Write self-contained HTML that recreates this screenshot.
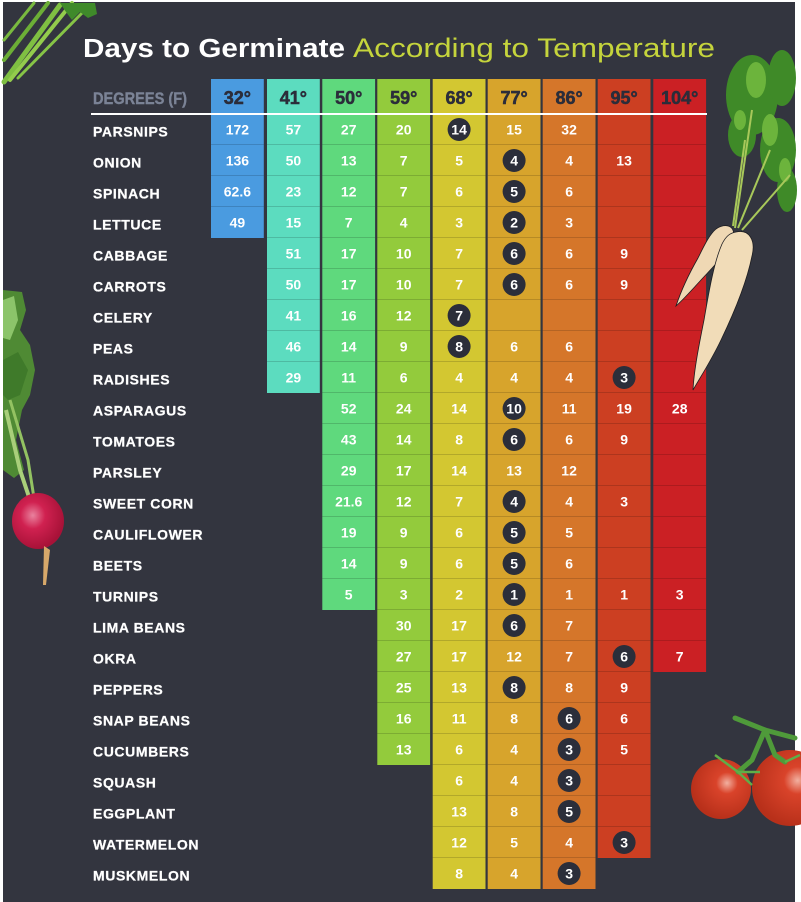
<!DOCTYPE html>
<html>
<head>
<meta charset="utf-8">
<style>
html,body{margin:0;padding:0;background:#ffffff;}
body{width:801px;height:902px;overflow:hidden;}
svg{display:block;}
.lb{font-family:"Liberation Sans",sans-serif;font-weight:700;font-size:14px;fill:#ffffff;letter-spacing:0.6px;stroke:#ffffff;stroke-width:0.25px;}
.nm{font-family:"Liberation Sans",sans-serif;font-weight:700;font-size:14px;fill:#ffffff;text-anchor:middle;}
.hd{font-family:"Liberation Sans",sans-serif;font-weight:700;font-size:18px;fill:#2b2d3a;text-anchor:middle;stroke:#2b2d3a;stroke-width:0.5px;}
.bd{fill:#2b2e3a;}
</style>
</head>
<body>
<svg width="801" height="902" viewBox="0 0 801 902" xmlns="http://www.w3.org/2000/svg">
<defs>
<pattern id="rl" patternUnits="userSpaceOnUse" x="0" y="114" width="10" height="31">
<rect x="0" y="30.3" width="10" height="1.2" fill="#000" fill-opacity="0.22"/>
</pattern>
<radialGradient id="tom" cx="0.6" cy="0.4" r="0.6">
<stop offset="0" stop-color="#f2b0a0"/>
<stop offset="0.3" stop-color="#d9432a"/>
<stop offset="1" stop-color="#b8301a"/>
</radialGradient>
<radialGradient id="rad" cx="0.4" cy="0.4" r="0.6">
<stop offset="0" stop-color="#e9829e"/>
<stop offset="0.4" stop-color="#d02150"/>
<stop offset="1" stop-color="#a81238"/>
</radialGradient>
</defs>

<!-- background -->
<rect x="3" y="2" width="792" height="900" fill="#33353f"/>

<!-- celery top-left -->
<g stroke-linecap="round" fill="none">
<path d="M4 82 L60 5" stroke="#7fbf42" stroke-width="5"/>
<path d="M10 80 L72 3" stroke="#93cc4c" stroke-width="4"/>
<path d="M4 60 L48 3" stroke="#6cae36" stroke-width="4"/>
<path d="M18 78 L85 10" stroke="#86c446" stroke-width="3"/>
<path d="M4 40 L34 3" stroke="#79b93f" stroke-width="3"/>
</g>
<path d="M60 3 L95 3 L97 14 L88 18 L80 12 L72 20 L66 12 Z" fill="#3f8a2a"/>

<!-- radish left -->
<path d="M3 290 L22 292 L26 310 L20 330 L30 345 L35 370 L30 395 L22 410 L16 440 L24 470 L14 478 L3 470 Z" fill="#4f8a34"/>
<path d="M3 300 L14 296 L18 320 L10 340 L3 338 Z" fill="#8cc46a"/>
<path d="M3 360 L18 352 L28 370 L20 395 L8 400 L3 395 Z" fill="#3f7a2a"/>
<path d="M6 410 L20 470 L30 500" stroke="#a9cf7a" stroke-width="4" fill="none"/>
<path d="M10 400 L28 460 L34 498" stroke="#93c262" stroke-width="3" fill="none"/>
<ellipse cx="38" cy="521" rx="26" ry="28" fill="url(#rad)"/>
<path d="M44 546 L50 550 L46 585 L43 585 Z" fill="#d7a86a"/>

<!-- parsnip foliage -->
<g fill="#3f8a28">
<ellipse cx="752" cy="95" rx="26" ry="40"/>
<ellipse cx="782" cy="78" rx="14" ry="28"/>
<ellipse cx="778" cy="150" rx="18" ry="32"/>
<ellipse cx="742" cy="135" rx="14" ry="22"/>
<ellipse cx="787" cy="190" rx="10" ry="22"/>
</g>
<g fill="#6cb43c">
<ellipse cx="756" cy="80" rx="10" ry="18"/>
<ellipse cx="770" cy="130" rx="8" ry="16"/>
<ellipse cx="740" cy="120" rx="6" ry="10"/>
<ellipse cx="785" cy="170" rx="6" ry="12"/>
</g>
<g stroke="#a8c85a" stroke-width="2" fill="none">
<path d="M735 228 L752 110"/>
<path d="M738 228 L770 150"/>
<path d="M742 230 L790 175"/>
<path d="M733 226 L745 140"/>
</g>

<!-- tomatoes -->
<circle cx="790" cy="788" r="38" fill="url(#tom)"/>
<circle cx="721" cy="789" r="30" fill="url(#tom)"/>
<g stroke="#4f9a3a" stroke-width="5" fill="none" stroke-linecap="round">
<path d="M735 718 L765 730 L795 738"/>
<path d="M765 730 L752 760 L738 772"/>
<path d="M765 730 L775 755 L785 762"/>
</g>
<g stroke="#5fae48" stroke-width="2.5" fill="none">
<path d="M738 772 L715 755"/>
<path d="M738 772 L760 772"/>
<path d="M738 772 L752 785"/>
<path d="M785 762 L800 755"/>
</g>

<!-- title -->
<text x="83" y="57" font-family="Liberation Sans, sans-serif" font-weight="700" font-size="25.5" fill="#ffffff" textLength="262" lengthAdjust="spacingAndGlyphs">Days to Germinate</text>
<text x="353" y="57" font-family="Liberation Sans, sans-serif" font-size="26.5" fill="#c5d43c" textLength="362" lengthAdjust="spacingAndGlyphs">According to Temperature</text>

<!-- columns -->
<rect x="211" y="79" width="52.8" height="159" fill="#4a9be0"/>
<rect x="267" y="79" width="52.8" height="314" fill="#5cdcbf"/>
<rect x="322.3" y="79" width="52.8" height="531" fill="#5fd97d"/>
<rect x="377.3" y="79" width="52.8" height="686" fill="#93cb3c"/>
<rect x="432.7" y="79" width="52.8" height="810" fill="#d3c731"/>
<rect x="487.7" y="79" width="52.8" height="810" fill="#d7a42c"/>
<rect x="542.7" y="79" width="52.8" height="810" fill="#d5762a"/>
<rect x="597.7" y="79" width="52.8" height="779" fill="#cc3f22"/>
<rect x="653.3" y="79" width="52.8" height="593" fill="#cb2024"/>

<!-- row separators -->
<rect x="211" y="114" width="52.8" height="121" fill="url(#rl)"/>
<rect x="267" y="114" width="52.8" height="276" fill="url(#rl)"/>
<rect x="322.3" y="114" width="52.8" height="493" fill="url(#rl)"/>
<rect x="377.3" y="114" width="52.8" height="648" fill="url(#rl)"/>
<rect x="432.7" y="114" width="52.8" height="772" fill="url(#rl)"/>
<rect x="487.7" y="114" width="52.8" height="772" fill="url(#rl)"/>
<rect x="542.7" y="114" width="52.8" height="772" fill="url(#rl)"/>
<rect x="597.7" y="114" width="52.8" height="741" fill="url(#rl)"/>
<rect x="653.3" y="114" width="52.8" height="555" fill="url(#rl)"/>

<!-- header -->
<text x="93" y="104" font-family="Liberation Sans, sans-serif" font-weight="700" font-size="16.5" fill="#7b8396" stroke="#7b8396" stroke-width="0.4" textLength="94" lengthAdjust="spacingAndGlyphs">DEGREES (F)</text>
<text class="hd" x="237.4" y="104">32°</text>
<text class="hd" x="293.4" y="104">41°</text>
<text class="hd" x="348.7" y="104">50°</text>
<text class="hd" x="403.7" y="104">59°</text>
<text class="hd" x="459.1" y="104">68°</text>
<text class="hd" x="514.1" y="104">77°</text>
<text class="hd" x="569.1" y="104">86°</text>
<text class="hd" x="624.1" y="104">95°</text>
<text class="hd" x="679.7" y="104">104°</text>
<rect x="91" y="113" width="616" height="2" fill="#ffffff"/>

<!-- parsnips (over the table) -->
<path d="M716 229 C726 222 736 226 733 238 C727 254 712 268 701 280 C691 291 683 300 676 306 C681 291 690 272 698 258 C704 246 709 235 716 229 Z" fill="#efd8b4" stroke="#1e1e22" stroke-width="0.8"/>
<path d="M736 232 C749 229 756 240 752 256 C747 281 735 311 721 340 C711 361 701 376 693 390 C694 370 699 345 704 320 C709 291 714 262 722 244 C726 236 730 233 736 232 Z" fill="#f1dcb8" stroke="#1e1e22" stroke-width="0.8"/>

<!-- rows -->
<g transform="translate(0,0)">
<text class="lb" x="93" y="136.5">PARSNIPS</text>
<text class="nm" x="237.4" y="134.5">172</text>
<text class="nm" x="293.4" y="134.5">57</text>
<text class="nm" x="348.7" y="134.5">27</text>
<text class="nm" x="403.7" y="134.5">20</text>
<circle class="bd" cx="459.1" cy="129.5" r="11.5"/><text class="nm" x="459.1" y="134.5">14</text>
<text class="nm" x="514.1" y="134.5">15</text>
<text class="nm" x="569.1" y="134.5">32</text>
</g>
<g transform="translate(0,31)">
<text class="lb" x="93" y="136.5">ONION</text>
<text class="nm" x="237.4" y="134.5">136</text>
<text class="nm" x="293.4" y="134.5">50</text>
<text class="nm" x="348.7" y="134.5">13</text>
<text class="nm" x="403.7" y="134.5">7</text>
<text class="nm" x="459.1" y="134.5">5</text>
<circle class="bd" cx="514.1" cy="129.5" r="11.5"/><text class="nm" x="514.1" y="134.5">4</text>
<text class="nm" x="569.1" y="134.5">4</text>
<text class="nm" x="624.1" y="134.5">13</text>
</g>
<g transform="translate(0,62)">
<text class="lb" x="93" y="136.5">SPINACH</text>
<text class="nm" x="237.4" y="134.5">62.6</text>
<text class="nm" x="293.4" y="134.5">23</text>
<text class="nm" x="348.7" y="134.5">12</text>
<text class="nm" x="403.7" y="134.5">7</text>
<text class="nm" x="459.1" y="134.5">6</text>
<circle class="bd" cx="514.1" cy="129.5" r="11.5"/><text class="nm" x="514.1" y="134.5">5</text>
<text class="nm" x="569.1" y="134.5">6</text>
</g>
<g transform="translate(0,93)">
<text class="lb" x="93" y="136.5">LETTUCE</text>
<text class="nm" x="237.4" y="134.5">49</text>
<text class="nm" x="293.4" y="134.5">15</text>
<text class="nm" x="348.7" y="134.5">7</text>
<text class="nm" x="403.7" y="134.5">4</text>
<text class="nm" x="459.1" y="134.5">3</text>
<circle class="bd" cx="514.1" cy="129.5" r="11.5"/><text class="nm" x="514.1" y="134.5">2</text>
<text class="nm" x="569.1" y="134.5">3</text>
</g>
<g transform="translate(0,124)">
<text class="lb" x="93" y="136.5">CABBAGE</text>
<text class="nm" x="293.4" y="134.5">51</text>
<text class="nm" x="348.7" y="134.5">17</text>
<text class="nm" x="403.7" y="134.5">10</text>
<text class="nm" x="459.1" y="134.5">7</text>
<circle class="bd" cx="514.1" cy="129.5" r="11.5"/><text class="nm" x="514.1" y="134.5">6</text>
<text class="nm" x="569.1" y="134.5">6</text>
<text class="nm" x="624.1" y="134.5">9</text>
</g>
<g transform="translate(0,155)">
<text class="lb" x="93" y="136.5">CARROTS</text>
<text class="nm" x="293.4" y="134.5">50</text>
<text class="nm" x="348.7" y="134.5">17</text>
<text class="nm" x="403.7" y="134.5">10</text>
<text class="nm" x="459.1" y="134.5">7</text>
<circle class="bd" cx="514.1" cy="129.5" r="11.5"/><text class="nm" x="514.1" y="134.5">6</text>
<text class="nm" x="569.1" y="134.5">6</text>
<text class="nm" x="624.1" y="134.5">9</text>
</g>
<g transform="translate(0,186)">
<text class="lb" x="93" y="136.5">CELERY</text>
<text class="nm" x="293.4" y="134.5">41</text>
<text class="nm" x="348.7" y="134.5">16</text>
<text class="nm" x="403.7" y="134.5">12</text>
<circle class="bd" cx="459.1" cy="129.5" r="11.5"/><text class="nm" x="459.1" y="134.5">7</text>
</g>
<g transform="translate(0,217)">
<text class="lb" x="93" y="136.5">PEAS</text>
<text class="nm" x="293.4" y="134.5">46</text>
<text class="nm" x="348.7" y="134.5">14</text>
<text class="nm" x="403.7" y="134.5">9</text>
<circle class="bd" cx="459.1" cy="129.5" r="11.5"/><text class="nm" x="459.1" y="134.5">8</text>
<text class="nm" x="514.1" y="134.5">6</text>
<text class="nm" x="569.1" y="134.5">6</text>
</g>
<g transform="translate(0,248)">
<text class="lb" x="93" y="136.5">RADISHES</text>
<text class="nm" x="293.4" y="134.5">29</text>
<text class="nm" x="348.7" y="134.5">11</text>
<text class="nm" x="403.7" y="134.5">6</text>
<text class="nm" x="459.1" y="134.5">4</text>
<text class="nm" x="514.1" y="134.5">4</text>
<text class="nm" x="569.1" y="134.5">4</text>
<circle class="bd" cx="624.1" cy="129.5" r="11.5"/><text class="nm" x="624.1" y="134.5">3</text>
</g>
<g transform="translate(0,279)">
<text class="lb" x="93" y="136.5">ASPARAGUS</text>
<text class="nm" x="348.7" y="134.5">52</text>
<text class="nm" x="403.7" y="134.5">24</text>
<text class="nm" x="459.1" y="134.5">14</text>
<circle class="bd" cx="514.1" cy="129.5" r="11.5"/><text class="nm" x="514.1" y="134.5">10</text>
<text class="nm" x="569.1" y="134.5">11</text>
<text class="nm" x="624.1" y="134.5">19</text>
<text class="nm" x="679.7" y="134.5">28</text>
</g>
<g transform="translate(0,310)">
<text class="lb" x="93" y="136.5">TOMATOES</text>
<text class="nm" x="348.7" y="134.5">43</text>
<text class="nm" x="403.7" y="134.5">14</text>
<text class="nm" x="459.1" y="134.5">8</text>
<circle class="bd" cx="514.1" cy="129.5" r="11.5"/><text class="nm" x="514.1" y="134.5">6</text>
<text class="nm" x="569.1" y="134.5">6</text>
<text class="nm" x="624.1" y="134.5">9</text>
</g>
<g transform="translate(0,341)">
<text class="lb" x="93" y="136.5">PARSLEY</text>
<text class="nm" x="348.7" y="134.5">29</text>
<text class="nm" x="403.7" y="134.5">17</text>
<text class="nm" x="459.1" y="134.5">14</text>
<text class="nm" x="514.1" y="134.5">13</text>
<text class="nm" x="569.1" y="134.5">12</text>
</g>
<g transform="translate(0,372)">
<text class="lb" x="93" y="136.5">SWEET CORN</text>
<text class="nm" x="348.7" y="134.5">21.6</text>
<text class="nm" x="403.7" y="134.5">12</text>
<text class="nm" x="459.1" y="134.5">7</text>
<circle class="bd" cx="514.1" cy="129.5" r="11.5"/><text class="nm" x="514.1" y="134.5">4</text>
<text class="nm" x="569.1" y="134.5">4</text>
<text class="nm" x="624.1" y="134.5">3</text>
</g>
<g transform="translate(0,403)">
<text class="lb" x="93" y="136.5">CAULIFLOWER</text>
<text class="nm" x="348.7" y="134.5">19</text>
<text class="nm" x="403.7" y="134.5">9</text>
<text class="nm" x="459.1" y="134.5">6</text>
<circle class="bd" cx="514.1" cy="129.5" r="11.5"/><text class="nm" x="514.1" y="134.5">5</text>
<text class="nm" x="569.1" y="134.5">5</text>
</g>
<g transform="translate(0,434)">
<text class="lb" x="93" y="136.5">BEETS</text>
<text class="nm" x="348.7" y="134.5">14</text>
<text class="nm" x="403.7" y="134.5">9</text>
<text class="nm" x="459.1" y="134.5">6</text>
<circle class="bd" cx="514.1" cy="129.5" r="11.5"/><text class="nm" x="514.1" y="134.5">5</text>
<text class="nm" x="569.1" y="134.5">6</text>
</g>
<g transform="translate(0,465)">
<text class="lb" x="93" y="136.5">TURNIPS</text>
<text class="nm" x="348.7" y="134.5">5</text>
<text class="nm" x="403.7" y="134.5">3</text>
<text class="nm" x="459.1" y="134.5">2</text>
<circle class="bd" cx="514.1" cy="129.5" r="11.5"/><text class="nm" x="514.1" y="134.5">1</text>
<text class="nm" x="569.1" y="134.5">1</text>
<text class="nm" x="624.1" y="134.5">1</text>
<text class="nm" x="679.7" y="134.5">3</text>
</g>
<g transform="translate(0,496)">
<text class="lb" x="93" y="136.5">LIMA BEANS</text>
<text class="nm" x="403.7" y="134.5">30</text>
<text class="nm" x="459.1" y="134.5">17</text>
<circle class="bd" cx="514.1" cy="129.5" r="11.5"/><text class="nm" x="514.1" y="134.5">6</text>
<text class="nm" x="569.1" y="134.5">7</text>
</g>
<g transform="translate(0,527)">
<text class="lb" x="93" y="136.5">OKRA</text>
<text class="nm" x="403.7" y="134.5">27</text>
<text class="nm" x="459.1" y="134.5">17</text>
<text class="nm" x="514.1" y="134.5">12</text>
<text class="nm" x="569.1" y="134.5">7</text>
<circle class="bd" cx="624.1" cy="129.5" r="11.5"/><text class="nm" x="624.1" y="134.5">6</text>
<text class="nm" x="679.7" y="134.5">7</text>
</g>
<g transform="translate(0,558)">
<text class="lb" x="93" y="136.5">PEPPERS</text>
<text class="nm" x="403.7" y="134.5">25</text>
<text class="nm" x="459.1" y="134.5">13</text>
<circle class="bd" cx="514.1" cy="129.5" r="11.5"/><text class="nm" x="514.1" y="134.5">8</text>
<text class="nm" x="569.1" y="134.5">8</text>
<text class="nm" x="624.1" y="134.5">9</text>
</g>
<g transform="translate(0,589)">
<text class="lb" x="93" y="136.5">SNAP BEANS</text>
<text class="nm" x="403.7" y="134.5">16</text>
<text class="nm" x="459.1" y="134.5">11</text>
<text class="nm" x="514.1" y="134.5">8</text>
<circle class="bd" cx="569.1" cy="129.5" r="11.5"/><text class="nm" x="569.1" y="134.5">6</text>
<text class="nm" x="624.1" y="134.5">6</text>
</g>
<g transform="translate(0,620)">
<text class="lb" x="93" y="136.5">CUCUMBERS</text>
<text class="nm" x="403.7" y="134.5">13</text>
<text class="nm" x="459.1" y="134.5">6</text>
<text class="nm" x="514.1" y="134.5">4</text>
<circle class="bd" cx="569.1" cy="129.5" r="11.5"/><text class="nm" x="569.1" y="134.5">3</text>
<text class="nm" x="624.1" y="134.5">5</text>
</g>
<g transform="translate(0,651)">
<text class="lb" x="93" y="136.5">SQUASH</text>
<text class="nm" x="459.1" y="134.5">6</text>
<text class="nm" x="514.1" y="134.5">4</text>
<circle class="bd" cx="569.1" cy="129.5" r="11.5"/><text class="nm" x="569.1" y="134.5">3</text>
</g>
<g transform="translate(0,682)">
<text class="lb" x="93" y="136.5">EGGPLANT</text>
<text class="nm" x="459.1" y="134.5">13</text>
<text class="nm" x="514.1" y="134.5">8</text>
<circle class="bd" cx="569.1" cy="129.5" r="11.5"/><text class="nm" x="569.1" y="134.5">5</text>
</g>
<g transform="translate(0,713)">
<text class="lb" x="93" y="136.5">WATERMELON</text>
<text class="nm" x="459.1" y="134.5">12</text>
<text class="nm" x="514.1" y="134.5">5</text>
<text class="nm" x="569.1" y="134.5">4</text>
<circle class="bd" cx="624.1" cy="129.5" r="11.5"/><text class="nm" x="624.1" y="134.5">3</text>
</g>
<g transform="translate(0,744)">
<text class="lb" x="93" y="136.5">MUSKMELON</text>
<text class="nm" x="459.1" y="134.5">8</text>
<text class="nm" x="514.1" y="134.5">4</text>
<circle class="bd" cx="569.1" cy="129.5" r="11.5"/><text class="nm" x="569.1" y="134.5">3</text>
</g>
</svg>
</body>
</html>
